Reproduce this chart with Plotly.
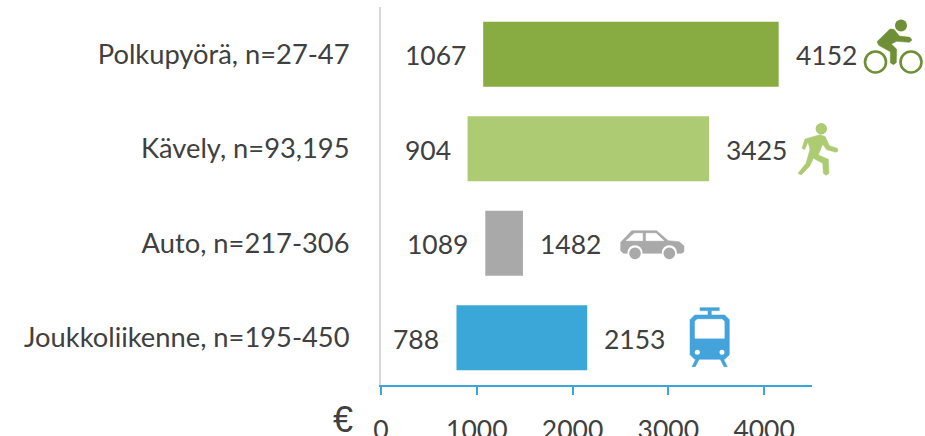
import plotly.graph_objects as go

categories = ["Polkupyörä, n=27-47", "Kävely, n=93,195", "Auto, n=217-306", "Joukkoliikenne, n=195-450"]
low_values = [1067, 904, 1089, 788]
high_values = [4152, 3425, 1482, 2153]
bar_colors = ["#88AB42", "#ADCB72", "#A9A9A9", "#3BA7D9"]
tick_values = [0, 1000, 2000, 3000, 4000]

FONT = "Lato, Carlito, Calibri, sans-serif"
TEXT = "#404040"
L, T, R, B = 381, 7, 812, 385
W, H = 925, 436
PW, PH = R - L, B - T
FS = 26.5

fig = go.Figure(go.Bar(
    y=categories, x=[h - l for h, l in zip(high_values, low_values)], base=low_values,
    orientation="h", marker=dict(color=bar_colors, line_width=0), width=0.69,
    hoverinfo="skip",
))

annots = []
for c, l, h in zip(categories, low_values, high_values):
    annots.append(dict(x=l, y=c, xref="x", yref="y", text=str(l), showarrow=False,
                       xanchor="right", xshift=-15, yshift=-1, font=dict(family=FONT, size=FS, color=TEXT)))
    annots.append(dict(x=h, y=c, xref="x", yref="y", text=str(h), showarrow=False,
                       xanchor="left", xshift=15, yshift=-1, font=dict(family=FONT, size=FS, color=TEXT)))
annots.append(dict(x=(343 - L) / PW, y=1 - (419 - T) / PH, xref="paper", yref="paper", text="€", showarrow=False,
                   xanchor="center", yanchor="middle", font=dict(family="Liberation Sans, sans-serif", size=36, color=TEXT)))


def px(x, y):
    return f"{(x - L) / PW:.5f},{1 - (y - T) / PH:.5f}"


def poly(pts, ox, oy, color, s=3.0):
    d = "M" + " L".join(px(ox + a / s, oy + b / s) for a, b in pts) + " Z"
    return dict(type="path", path=d, xref="paper", yref="paper", fillcolor=color, line=dict(color=color, width=0.5), layer="above")


def circ(cx, cy, r, fill, stroke=None, sw=0):
    return dict(type="circle", xref="paper", yref="paper",
                x0=(cx - r - L) / PW, x1=(cx + r - L) / PW,
                y0=1 - (cy + r - T) / PH, y1=1 - (cy - r - T) / PH,
                fillcolor=fill, line=dict(color=stroke or fill, width=sw), layer="above")


shapes = []
BK = "#6E8F35"
bx, by = 780, 0
shapes += [
    circ(901, 25.5, 6, BK),
    circ(875.5, 62, 10.5, "rgba(0,0,0,0)", BK, 2.6),
    circ(911, 62, 10.5, "rgba(0,0,0,0)", BK, 2.6),
    poly([(291, 125), (330, 87), (342, 88), (358, 108), (390, 112), (396, 120), (388, 127), (350, 124),
          (334, 132), (350, 148), (349, 188), (340, 194), (331, 188), (331, 155), (296, 136)], bx, by, BK),
]
WK = "#ADCB72"
shapes += [
    circ(821.3, 128.7, 5.7, WK),
    poly([(66, 445), (75, 417), (120, 404), (136, 410), (148, 437), (172, 445), (174, 453), (168, 457), (140, 449),
          (128, 433), (115, 465), (145, 478), (147, 520), (138, 526), (130, 520), (128, 490), (100, 475), (90, 497),
          (64, 525), (54, 520), (78, 490), (90, 448), (84, 426), (74, 449)], bx, by, WK),
]
CR = "#A9A9A9"
cx, cy = 600, 210
shapes += [
    poly([(62, 97), (95, 62), (170, 62), (205, 92), (238, 95), (252, 108), (252, 125), (245, 130), (70, 130), (62, 122)], cx, cy, CR),
    poly([(78, 92), (103, 70), (128, 70), (128, 92)], cx, cy, "#FFFFFF"),
    poly([(138, 70), (168, 70), (192, 92), (138, 92)], cx, cy, "#FFFFFF"),
    circ(600 + 105 / 3, 210 + 128 / 3, 7.5, "#FFFFFF"),
    circ(600 + 208 / 3, 210 + 128 / 3, 7.5, "#FFFFFF"),
    circ(600 + 105 / 3, 210 + 130 / 3, 5.8, CR),
    circ(600 + 208 / 3, 210 + 130 / 3, 5.8, CR),
]
TR = "#45A3DC"
shapes += [
    poly([(300, 293), (358, 293), (358, 302), (300, 302)], cx, cy, TR),
    poly([(324, 302), (334, 302), (334, 320), (324, 320)], cx, cy, TR),
    poly([(284, 315), (374, 315), (388, 329), (388, 434), (374, 448), (284, 448), (270, 434), (270, 329)], cx, cy, TR),
    poly([(285, 334), (292, 328), (366, 328), (373, 334), (373, 385), (285, 385)], cx, cy, "#FFFFFF"),
    circ(600 + 292 / 3, 210 + 427 / 3, 2.5, "#FFFFFF"),
    circ(600 + 366 / 3, 210 + 427 / 3, 2.5, "#FFFFFF"),
    poly([(288, 446), (298, 446), (286, 470), (276, 470)], cx, cy, TR),
    poly([(360, 446), (370, 446), (382, 470), (372, 470)], cx, cy, TR),
]

fig.update_layout(
    width=W, height=H, autosize=False, showlegend=False,
    paper_bgcolor="white", plot_bgcolor="white",
    margin=dict(l=L, r=W - R, t=T, b=H - B, pad=0),
    bargap=0.31, annotations=annots, shapes=shapes,
    xaxis=dict(range=[0, 4500], automargin=False, tickvals=tick_values, ticks="outside", ticklen=8, tickwidth=2,
               tickcolor="#3BA7D9", showline=True, linecolor="#3BA7D9", linewidth=2, showgrid=False, zeroline=False,
               ticklabelstandoff=12, tickfont=dict(family=FONT, size=FS, color=TEXT)),
    yaxis=dict(autorange="reversed", automargin=False, showline=True, linecolor="#D9D9D9", linewidth=2, showgrid=False,
               zeroline=False, ticks="", ticklabelstandoff=24, tickfont=dict(family=FONT, size=27.3, color=TEXT)),
)
fig.write_html("out.html", config={"displayModeBar": False},
               post_script="document.body.style.margin='0';document.documentElement.style.overflow='hidden';")
